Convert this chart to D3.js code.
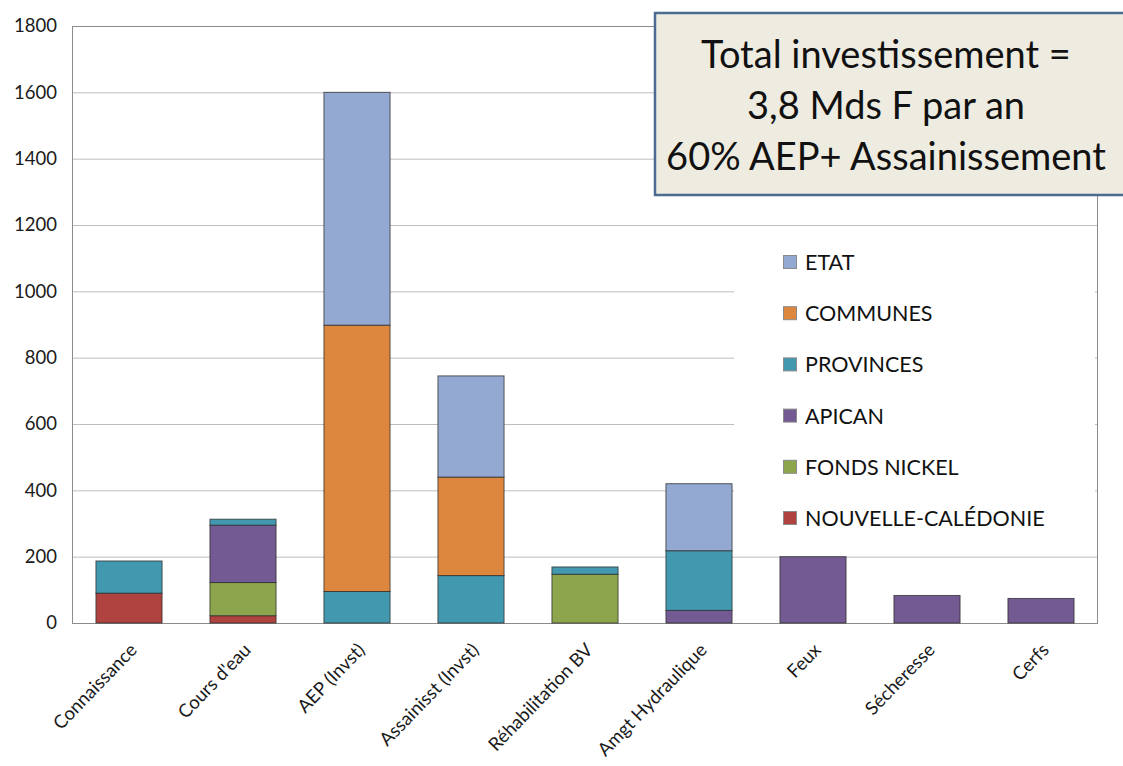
<!DOCTYPE html>
<html>
<head>
<meta charset="utf-8">
<script src="https://cdn.jsdelivr.net/npm/d3@7"></script>
<style>
  html, body { margin: 0; padding: 0; background: #fff; }
  svg { display: block; font-family: Lato, "Open Sans", sans-serif; }
</style>
</head>
<body>
<svg id="chart" width="1123" height="766"></svg>
<script>
const categories = ["Connaissance", "Cours d'eau", "AEP (Invst)", "Assainisst (Invst)", "Réhabilitation BV", "Amgt Hydraulique", "Feux", "Sécheresse", "Cerfs"];
const seriesNames = ["NOUVELLE-CALÉDONIE", "FONDS NICKEL", "APICAN", "PROVINCES", "COMMUNES", "ETAT"];
const nouvelleCaledonie = [90, 22, 0, 0, 0, 0, 0, 0, 0];
const fondsNickel      = [0, 100, 0, 0, 147, 0, 0, 0, 0];
const apican           = [0, 173, 0, 0, 0, 38, 200, 83, 74];
const provinces        = [97, 18, 95, 143, 22, 180, 0, 0, 0];
const communes         = [0, 0, 803, 297, 0, 0, 0, 0, 0];
const etat             = [0, 0, 702, 305, 0, 202, 0, 0, 0];
const yTicks = [0, 200, 400, 600, 800, 1000, 1200, 1400, 1600, 1800];
const legendOrder = ["ETAT", "COMMUNES", "PROVINCES", "APICAN", "FONDS NICKEL", "NOUVELLE-CALÉDONIE"];
const boxLines = ["Total investissement =", "3,8 Mds F par an", "60% AEP+ Assainissement"];

const colors = {
  "NOUVELLE-CALÉDONIE": "#B0433F",
  "FONDS NICKEL": "#8DA64D",
  "APICAN": "#735A92",
  "PROVINCES": "#4298AF",
  "COMMUNES": "#DC873D",
  "ETAT": "#93A9D1"
};

const seriesValues = [nouvelleCaledonie, fondsNickel, apican, provinces, communes, etat];
const table = categories.map((c, i) => {
  const row = { cat: c };
  seriesNames.forEach((s, j) => row[s] = seriesValues[j][i]);
  return row;
});

const svg = d3.select("#chart");
const pLeft = 72, pRight = 1098, pTop = 26, pBottom = 623;

const x = d3.scaleBand().domain(categories).range([pLeft, pRight]).paddingInner(0.42).paddingOuter(0.21);
const y = d3.scaleLinear().domain([0, 1800]).range([pBottom, pTop]);

// gridlines
svg.append("g").selectAll("line").data(yTicks).join("line")
  .attr("x1", pLeft).attr("x2", pRight)
  .attr("y1", d => y(d) + 0.5).attr("y2", d => y(d) + 0.5)
  .attr("stroke", "#BEBEBE").attr("stroke-width", 1);

// plot border
svg.append("rect").attr("x", pLeft + 0.5).attr("y", pTop + 0.5)
  .attr("width", pRight - pLeft - 1).attr("height", pBottom - pTop)
  .attr("fill", "none").attr("stroke", "#8C8C8C").attr("stroke-width", 1);

// y axis labels
const yAxis = d3.axisLeft(y).tickValues(yTicks).tickSize(0).tickPadding(15).tickFormat(d3.format("d"));
const ya = svg.append("g").attr("transform", `translate(${pLeft},0)`).call(yAxis);
ya.select(".domain").remove();
ya.selectAll("text").attr("font-size", 18.5).attr("fill", "#1a1a1a").attr("font-family", "Lato, sans-serif");

// stacked bars
const stack = d3.stack().keys(seriesNames)(table);
svg.append("g").selectAll("g").data(stack).join("g")
  .attr("fill", d => colors[d.key])
  .selectAll("rect").data(d => d.filter(p => p[1] - p[0] > 0)).join("rect")
  .attr("x", d => x(d.data.cat))
  .attr("width", x.bandwidth())
  .attr("y", d => y(d[1]))
  .attr("height", d => y(d[0]) - y(d[1]))
  .attr("stroke", "#2b2b2b").attr("stroke-opacity", 0.75).attr("stroke-width", 1);

// x axis labels
const xa = svg.append("g");
xa.selectAll("text").data(categories).join("text")
  .attr("transform", d => `translate(${x(d) + x.bandwidth() / 2 + 9},651) rotate(-46)`)
  .attr("text-anchor", "end")
  .attr("font-size", 18.5)
  .attr("fill", "#1a1a1a")
  .text(d => d);

// legend
const lg = svg.append("g");
lg.append("rect").attr("x", 734).attr("y", 234).attr("width", 361).attr("height", 313).attr("fill", "#fff");
const items = lg.selectAll("g").data(legendOrder).join("g")
  .attr("transform", (d, i) => `translate(783,${262 + i * 51.2})`);
items.append("rect").attr("x", 0.5).attr("y", -6.5).attr("width", 13).attr("height", 13)
  .attr("fill", d => colors[d]).attr("stroke", "#8a8a8a").attr("stroke-width", 1);
items.append("text").attr("x", 22).attr("y", 8)
  .attr("font-size", 21.5).attr("fill", "#111").text(d => d);

// text box
const bx = svg.append("g");
bx.append("rect").attr("x", 655).attr("y", 13).attr("width", 480).attr("height", 182)
  .attr("fill", "#EEECE1").attr("stroke", "#4B6B93").attr("stroke-width", 2.5);
bx.selectAll("text").data(boxLines).join("text")
  .attr("x", 886).attr("y", (d, i) => 68 + i * 51)
  .attr("text-anchor", "middle").attr("font-size", 38).attr("fill", "#111")
  .text(d => d);
</script>
</body>
</html>
